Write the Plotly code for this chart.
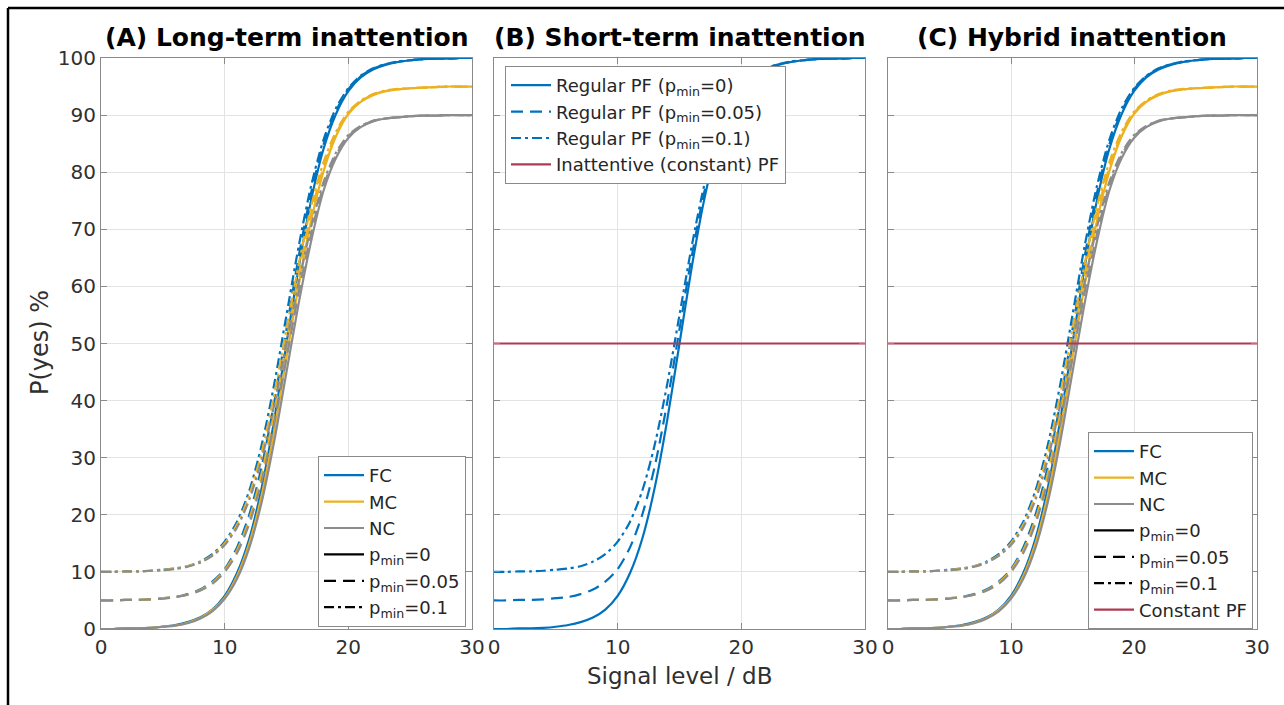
import plotly.graph_objects as go

# ---------------- data ----------------
signal_db = [0, 1, 2, 3, 4, 5, 6, 7, 8, 9, 10, 11, 12, 13, 14, 15, 16, 17, 18, 19, 20,
             21, 22, 23, 24, 25, 26, 27, 28, 29, 30]

FC_p0 = [0.0, 0.0, 0.1, 0.1, 0.2, 0.4, 0.7, 1.2, 2.0, 3.4, 5.8, 9.8, 15.9, 24.8, 36.5, 50.0,
         63.5, 75.2, 84.1, 90.2, 94.2, 96.6, 98.0, 98.8, 99.3, 99.6, 99.8, 99.9, 99.9, 100.0, 100.0]
FC_p05 = [5.0, 5.0, 5.1, 5.1, 5.2, 5.4, 5.6, 6.1, 6.9, 8.3, 10.5, 14.3, 20.1, 28.5, 39.6, 52.5,
          65.4, 76.5, 84.9, 90.7, 94.5, 96.8, 98.1, 98.9, 99.3, 99.6, 99.8, 99.9, 99.9, 100.0, 100.0]
FC_p10 = [10.0, 10.0, 10.1, 10.1, 10.2, 10.4, 10.6, 11.0, 11.8, 13.1, 15.3, 18.8, 24.3, 32.3, 42.8, 55.0,
          67.2, 77.7, 85.7, 91.2, 94.7, 96.9, 98.2, 98.9, 99.4, 99.6, 99.8, 99.9, 99.9, 100.0, 100.0]

MC_p0 = [0.0, 0.0, 0.1, 0.1, 0.2, 0.4, 0.6, 1.1, 1.9, 3.3, 5.5, 9.3, 15.1, 23.5, 34.6, 47.5,
         60.4, 71.6, 80.2, 86.3, 90.2, 92.3, 93.5, 94.2, 94.5, 94.7, 94.8, 94.9, 95.0, 95.0, 95.0]
MC_p05 = [5.0, 5.0, 5.1, 5.1, 5.2, 5.4, 5.6, 6.0, 6.8, 8.1, 10.3, 13.8, 19.3, 27.3, 37.8, 50.0,
          62.2, 72.8, 80.9, 86.7, 90.4, 92.4, 93.6, 94.2, 94.5, 94.7, 94.8, 94.9, 95.0, 95.0, 95.0]
MC_p10 = [10.0, 10.0, 10.1, 10.1, 10.2, 10.3, 10.6, 11.0, 11.7, 12.9, 15.0, 18.3, 23.5, 31.0, 41.0, 52.5,
          64.0, 74.1, 81.8, 87.1, 90.6, 92.5, 93.7, 94.3, 94.6, 94.7, 94.8, 94.9, 95.0, 95.0, 95.0]

NC_p0 = [0.0, 0.0, 0.1, 0.1, 0.2, 0.4, 0.6, 1.0, 1.8, 3.1, 5.3, 8.8, 14.3, 22.3, 32.8, 45.0,
         57.2, 68.0, 76.8, 82.5, 86.0, 87.9, 88.9, 89.4, 89.6, 89.8, 89.9, 89.9, 90.0, 90.0, 90.0]
NC_p05 = [5.0, 5.0, 5.1, 5.1, 5.2, 5.3, 5.6, 6.0, 6.7, 7.9, 10.0, 13.3, 18.5, 26.0, 36.0, 47.5,
          59.0, 69.3, 77.6, 83.0, 86.3, 88.0, 89.0, 89.4, 89.6, 89.8, 89.9, 89.9, 90.0, 90.0, 90.0]
NC_p10 = [10.0, 10.0, 10.1, 10.1, 10.2, 10.3, 10.5, 10.9, 11.6, 12.8, 14.7, 17.8, 22.7, 29.8, 39.2, 50.0,
          60.8, 70.5, 78.3, 83.4, 86.5, 88.1, 89.0, 89.4, 89.6, 89.8, 89.9, 89.9, 90.0, 90.0, 90.0]

constant_x = [0, 30]
constant_y = [50, 50]

panel_titles = ["(A) Long-term inattention", "(B) Short-term inattention", "(C) Hybrid inattention"]
x_ticks = [0, 10, 20, 30]
y_ticks = [0, 10, 20, 30, 40, 50, 60, 70, 80, 90, 100]

# ---------------- styles ----------------
BLUE = "#0072BD"
YELLOW = "#EDB120"
GRAY = "#8c8c8c"
RED = "#B03A55"
FONT = "DejaVu Sans"
DASHES = {"solid": "solid", "dash": "12px,7px", "dashdot": "10px,4px,3px,4px"}
LW = 2.2

W, H = 1284, 705
panels_px = [(101, 472), (494, 865), (888, 1257)]
y0_px, y100_px = 629, 58

fig = go.Figure()

axis_ids = ["", "2", "3"]
conditions = [("FC", BLUE, [FC_p0, FC_p05, FC_p10]),
              ("MC", YELLOW, [MC_p0, MC_p05, MC_p10]),
              ("NC", GRAY, [NC_p0, NC_p05, NC_p10])]
dash_keys = ["solid", "dash", "dashdot"]


def add_line(xs, ys, color, dash, ax, name=None, legend=None, show=False):
    fig.add_trace(go.Scatter(
        x=xs, y=ys, mode="lines",
        line=dict(color=color, width=LW, dash=DASHES[dash], shape="spline", smoothing=0.8),
        xaxis="x" + ax, yaxis="y" + ax, name=name, legend=legend,
        showlegend=show, hoverinfo="skip"))


# Panel A and C curves
for ax_i, leg in [(0, "legend"), (2, "legend3")]:
    ax = axis_ids[ax_i]
    for name, color, series in conditions:
        for k, ys in enumerate(series):
            add_line(signal_db, ys, color, dash_keys[k], ax)
    # legend entries
    for name, color, _ in conditions:
        fig.add_trace(go.Scatter(x=[None], y=[None], mode="lines",
                                 line=dict(color=color, width=LW),
                                 xaxis="x" + ax, yaxis="y" + ax,
                                 name=name, legend=leg, showlegend=True))
    for k, lab in enumerate(["p<sub>min</sub>=0", "p<sub>min</sub>=0.05", "p<sub>min</sub>=0.1"]):
        fig.add_trace(go.Scatter(x=[None], y=[None], mode="lines",
                                 line=dict(color="black", width=LW, dash=DASHES[dash_keys[k]]),
                                 xaxis="x" + ax, yaxis="y" + ax,
                                 name=lab, legend=leg, showlegend=True))

# Panel C constant PF
fig.add_trace(go.Scatter(x=constant_x, y=constant_y, mode="lines",
                         line=dict(color=RED, width=LW), xaxis="x3", yaxis="y3",
                         name="Constant PF", legend="legend3", showlegend=True))

# Panel B
for k, (ys, lab) in enumerate(zip([FC_p0, FC_p05, FC_p10],
                                  ["Regular PF (p<sub>min</sub>=0)",
                                   "Regular PF (p<sub>min</sub>=0.05)",
                                   "Regular PF (p<sub>min</sub>=0.1)"])):
    add_line(signal_db, ys, BLUE, dash_keys[k], "2", name=lab, legend="legend2", show=True)
fig.add_trace(go.Scatter(x=constant_x, y=constant_y, mode="lines",
                         line=dict(color=RED, width=LW), xaxis="x2", yaxis="y2",
                         name="Inattentive (constant) PF", legend="legend2", showlegend=True))

# ---------------- axes ----------------
ydom = [1 - y0_px / H, 1 - y100_px / H]
layout = dict(width=W, height=H, margin=dict(l=0, r=0, t=0, b=0, pad=0),
              paper_bgcolor="white", plot_bgcolor="white",
              font=dict(family=FONT, size=18, color="#262626"))
for i, (xa, xb) in enumerate(panels_px):
    ax = axis_ids[i]
    common = dict(showline=True, linecolor="#8a8a8a", linewidth=1.2, mirror="ticks",
                  ticks="inside", ticklen=6, tickcolor="#8a8a8a", tickwidth=1,
                  showgrid=True, gridcolor="#e3e3e3", gridwidth=1, zeroline=False,
                  automargin=False,
                  tickfont=dict(family=FONT, size=20, color="#303030"))
    layout["xaxis" + ax] = dict(common, domain=[xa / W, xb / W], range=[0, 30],
                                tickvals=x_ticks, anchor="y" + ax)
    layout["yaxis" + ax] = dict(common, domain=ydom, range=[0, 100], tickvals=y_ticks,
                                anchor="x" + ax, showticklabels=(i == 0))

legend_common = dict(bgcolor="white", bordercolor="#8a8a8a", borderwidth=1,
                     font=dict(family=FONT, size=18, color="#262626"),
                     xanchor="left", yanchor="top", tracegroupgap=0, itemwidth=40)
layout["legend"] = dict(legend_common, x=318 / W, y=1 - 456 / H)
layout["legend2"] = dict(legend_common, x=505 / W, y=1 - 66 / H)
layout["legend3"] = dict(legend_common, x=1088 / W, y=1 - 432 / H)

annotations = []
for title, cx in zip(panel_titles, [286, 680, 1072]):
    annotations.append(dict(text="<b>" + title + "</b>", x=cx / W, y=1 - 38 / H,
                            xref="paper", yref="paper", showarrow=False,
                            xanchor="center", yanchor="middle",
                            font=dict(family=FONT, size=25, color="black")))
annotations.append(dict(text="P(yes) %", x=40 / W, y=1 - 343 / H, xref="paper", yref="paper",
                        showarrow=False, textangle=-90, xanchor="center", yanchor="middle",
                        font=dict(family=FONT, size=24, color="#303030")))
annotations.append(dict(text="Signal level / dB", x=680 / W, y=1 - 676 / H, xref="paper",
                        yref="paper", showarrow=False, xanchor="center", yanchor="middle",
                        font=dict(family=FONT, size=23, color="#303030")))
layout["annotations"] = annotations

# outer frame of the figure
layout["shapes"] = [
    dict(type="line", xref="paper", yref="paper", x0=8 / W, x1=1.0, y0=1 - 8 / H, y1=1 - 8 / H,
         line=dict(color="black", width=2.5)),
    dict(type="line", xref="paper", yref="paper", x0=8 / W, x1=8 / W, y0=0, y1=1 - 8 / H,
         line=dict(color="black", width=2.5)),
]

fig.update_layout(**layout)
fig.write_html("out.html",
               post_script="document.body.style.margin='0px';"
                           "document.documentElement.style.overflow='hidden';")
